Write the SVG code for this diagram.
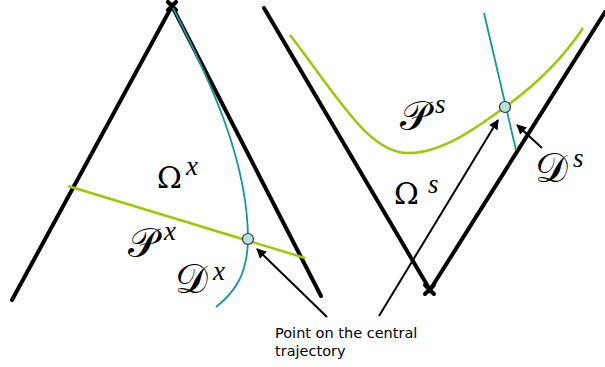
<svg xmlns="http://www.w3.org/2000/svg" width="605" height="367" viewBox="0 0 605 367">
<defs>
<style>
.cone{stroke:#000;stroke-width:4;fill:none;stroke-linecap:round}
.green{stroke:#99cc00;stroke-width:2.5;fill:none}
.teal{stroke:#119999;stroke-width:1.8;fill:none}
.arrow{stroke:#000;stroke-width:2;fill:none;marker-end:url(#ah)}
.pt{fill:#b5dfe0;stroke:#333;stroke-width:1.2}
.m{font-family:"DejaVu Serif","Liberation Serif",serif;font-size:30px;fill:#000}
.cal{font-family:"DejaVu Serif","Liberation Serif",serif;font-size:41px;fill:#000}
.sup{font-family:"Liberation Serif",serif;font-style:italic;font-size:27px;fill:#000}
.lbl{font-family:"DejaVu Sans",Verdana,sans-serif;font-size:14.5px;fill:#000}
</style>
<marker id="ah" viewBox="0 0 10 10" refX="9" refY="5" markerWidth="5" markerHeight="5" orient="auto"><path d="M0,0 L10,5 L0,10 z" fill="#000"/></marker>
</defs>
<g id="left-cone">
<path class="cone" d="M12,300 L172,6 L321,296"/>
<path class="cone" stroke-width="2.5" d="M168,2 L176,10 M176,2 L168,10"/>
</g>
<g id="right-cone">
<path class="cone" d="M264,8 L430,290 L605,12"/>
<path class="cone" stroke-width="2.5" d="M425,285 L434,294 M434,285 L425,294"/>
</g>
<g id="left-curves">
<path class="teal" d="M173,8 C210,80 248,160 248,240 C247,275 235,292 216,307"/>
<path class="green" d="M68,186 L305,258"/>
<circle class="pt" cx="248" cy="239" r="5.5"/>
</g>
<g id="right-curves">
<path class="green" d="M290,35 C340,100 370,155 410,153 C445,152 480,125 505,107 C540,82 565,55 583,28"/>
<path class="teal" d="M484,13 L516,150"/>
<circle class="pt" cx="505" cy="107" r="5.5"/>
</g>
<g id="connectors">
<path class="arrow" d="M327,317 L257,249"/>
<path class="arrow" d="M379,316 L498,120"/>
<path class="arrow" d="M542,148 L517,125"/>
</g>
<g id="labels">
<text class="m" x="157" y="188">Ω</text><text class="sup" x="186" y="175">x</text>
<text class="cal" x="128" y="257">𝒫</text><text class="sup" x="164" y="240">x</text>
<text class="cal" x="175" y="293">𝒟</text><text class="sup" x="213" y="280">x</text>
<text class="cal" x="400" y="130">𝒫</text><text class="sup" x="435" y="113">s</text>
<text class="m" x="394" y="204">Ω</text><text class="sup" x="428" y="193">s</text>
<text class="cal" x="535" y="182">𝒟</text><text class="sup" x="573" y="167">s</text>
<text class="lbl" x="275" y="338">Point on the central</text>
<text class="lbl" x="275" y="356">trajectory</text>
</g>
</svg>
